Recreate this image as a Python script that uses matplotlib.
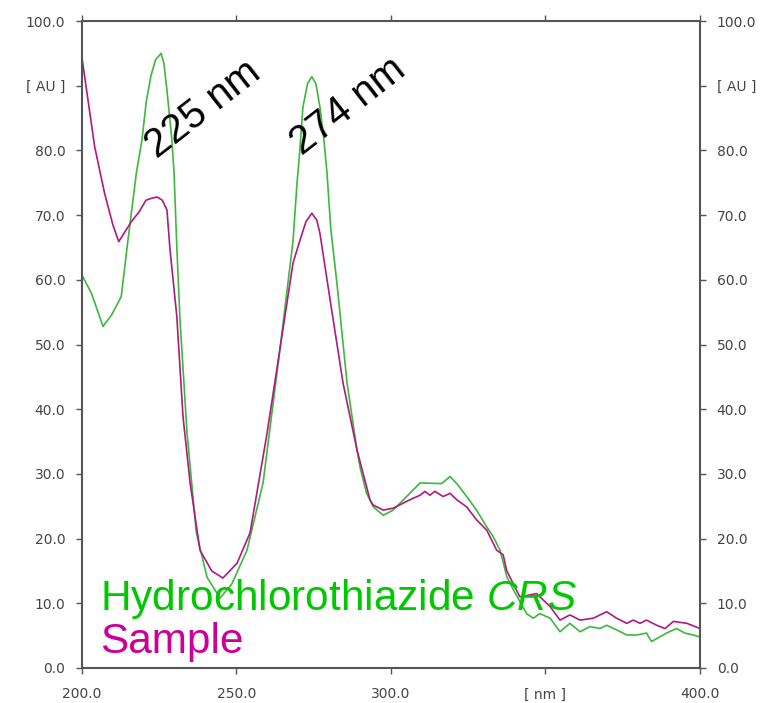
"""
UV absorption spectra: Hydrochlorothiazide CRS vs sample
"""

import matplotlib
matplotlib.use('Agg')
import matplotlib.pyplot as plt

plt.rcParams['font.family'] = ['Liberation Sans', 'DejaVu Sans']
plt.rcParams['mathtext.fontset'] = 'custom'
plt.rcParams['mathtext.rm'] = 'Liberation Sans'
plt.rcParams['mathtext.it'] = 'Liberation Sans:italic'

# reference standard spectrum (wavelength nm, absorbance)
crs_nm = [200.0, 203.0, 206.8, 209.5, 212.7, 214.9, 217.6, 219.4, 220.8, 222.3,
          223.8, 225.6, 226.5, 227.5, 229.1, 229.8, 230.7, 231.7, 234.0, 237.0,
          240.5, 244.7, 248.5, 253.4, 258.6, 264.0, 268.3, 269.6, 270.5, 271.5,
          273.0, 274.4, 275.7, 277.0, 278.3, 279.3, 280.5, 282.5, 285.8, 289.0,
          290.0, 292.1, 294.3, 297.5, 300.7, 304.0, 306.1, 309.4, 316.4, 319.1,
          321.3, 324.5, 327.7, 331.0, 333.1, 335.3, 337.5, 339.6, 343.9, 346.0,
          348.2, 351.5, 354.7, 357.9, 361.2, 364.4, 367.6, 369.8, 373.0, 376.3,
          379.5, 382.7, 384.3, 387.0, 389.2, 392.4, 395.1, 397.8, 400.0]
crs_au = [60.7, 58.0, 52.8, 54.5, 57.4, 66.2, 76.5, 81.6, 87.5, 91.5,
          94.0, 95.0, 93.5, 89.3, 81.6, 76.5, 65.0, 54.0, 36.3, 20.9,
          14.0, 10.8, 13.0, 18.2, 28.6, 49.0, 66.0, 75.0, 80.0, 86.7,
          90.3, 91.4, 90.3, 86.7, 81.6, 76.5, 68.0, 59.5, 44.0, 33.7,
          31.0, 27.0, 24.9, 23.6, 24.4, 26.0, 27.0, 28.6, 28.5, 29.6,
          28.5, 26.5, 24.4, 21.8, 20.3, 18.2, 14.1, 12.1, 8.4, 7.7,
          8.4, 7.7, 5.6, 6.9, 5.6, 6.4, 6.1, 6.6, 5.9, 5.1,
          5.1, 5.4, 4.1, 4.8, 5.4, 6.1, 5.4, 5.1, 4.8]

# sample spectrum
smp_nm = [200.0, 204.1, 207.3, 210.0, 211.9, 214.0, 216.0, 218.5, 220.7, 222.5,
          224.3, 226.0, 227.5, 228.5, 230.7, 232.7, 235.0, 238.2, 242.0, 245.6,
          250.2, 254.4, 259.9, 264.0, 268.3, 270.6, 272.5, 274.4, 276.0, 277.0,
          280.3, 284.5, 289.0, 293.2, 294.2, 297.5, 300.7, 306.1, 309.4, 311.0,
          312.6, 314.2, 316.9, 319.1, 321.3, 324.5, 327.7, 331.0, 334.2, 336.3,
          337.4, 341.7, 347.1, 351.5, 354.7, 357.9, 361.2, 365.5, 369.8, 373.0,
          376.3, 378.4, 380.6, 382.7, 386.0, 388.7, 391.4, 395.8, 400.0]
smp_au = [94.3, 80.6, 73.4, 68.5, 65.9, 67.5, 69.0, 70.5, 72.3, 72.6,
          72.8, 72.3, 70.8, 64.6, 54.3, 38.8, 28.6, 18.2, 15.0, 13.9,
          16.2, 20.9, 36.3, 49.1, 62.6, 66.2, 69.0, 70.3, 69.2, 67.2,
          56.9, 44.0, 33.7, 26.0, 25.2, 24.4, 24.7, 26.0, 26.7, 27.3,
          26.7, 27.3, 26.5, 27.0, 26.0, 24.9, 22.9, 21.3, 18.2, 17.5,
          15.1, 11.0, 11.5, 9.5, 7.4, 8.2, 7.4, 7.7, 8.7, 7.7,
          6.9, 7.4, 6.9, 7.4, 6.6, 6.1, 7.2, 6.9, 6.1]

peak_labels = ['225 nm', '274 nm']
peak_label_pos = [(224.3, 78.7), (271.2, 79.2)]

x_ticks = [200, 250, 300, 350, 400]
x_tick_labels = ['200.0', '250.0', '300.0', '[ nm ]', '400.0']
y_ticks = [0, 10, 20, 30, 40, 50, 60, 70, 80, 90, 100]
y_tick_labels = ['0.0', '10.0', '20.0', '30.0', '40.0', '50.0', '60.0',
                 '70.0', '80.0', '[ AU ]', '100.0']

GREEN_LINE = '#3cb83c'
GREEN_TEXT = '#00c800'
MAGENTA_LINE = '#b0197f'
MAGENTA_TEXT = '#cc0099'
AXIS_GREY = '#555555'

fig = plt.figure(figsize=(7.64, 7.03), dpi=100)
ax = fig.add_axes([0.1073, 0.0498, 0.8089, 0.9203])

ax.plot(crs_nm, crs_au, color=GREEN_LINE, lw=1.2)
ax.plot(smp_nm, smp_au, color=MAGENTA_LINE, lw=1.2)

ax.set_xlim(200, 400)
ax.set_ylim(0, 100)

for lbl, (px, py) in zip(peak_labels, peak_label_pos):
    ax.text(px, py, lbl, fontsize=29, rotation=38, rotation_mode='anchor',
            ha='left', va='baseline', color='black')

ax.text(205.8, 9.0, r'Hydrochlorothiazide $\it{CRS}$', fontsize=30.5,
        color=GREEN_TEXT, ha='left', va='baseline')
ax.text(205.8, 2.3, 'Sample', fontsize=30.5, color=MAGENTA_TEXT,
        ha='left', va='baseline')

ax.set_xticks(x_ticks)
ax.set_xticklabels(x_tick_labels)
ax.set_yticks(y_ticks)
ax.set_yticklabels(y_tick_labels)
ax.tick_params(axis='both', direction='out', length=4, width=1,
               colors=AXIS_GREY, labelcolor='#444444', labelsize=10,
               top=True, right=True, labelright=True, pad=8)
ax.tick_params(axis='x', pad=10)
# tick labels use the wider DejaVu face on both y sides
for t in ax.xaxis.get_major_ticks() + ax.yaxis.get_major_ticks():
    t.label1.set_family('DejaVu Sans')
    t.label2.set_family('DejaVu Sans')

for side in ['left', 'right', 'top', 'bottom']:
    ax.spines[side].set_color(AXIS_GREY)
    ax.spines[side].set_linewidth(1.5)

fig.savefig('out.png', dpi=100)
